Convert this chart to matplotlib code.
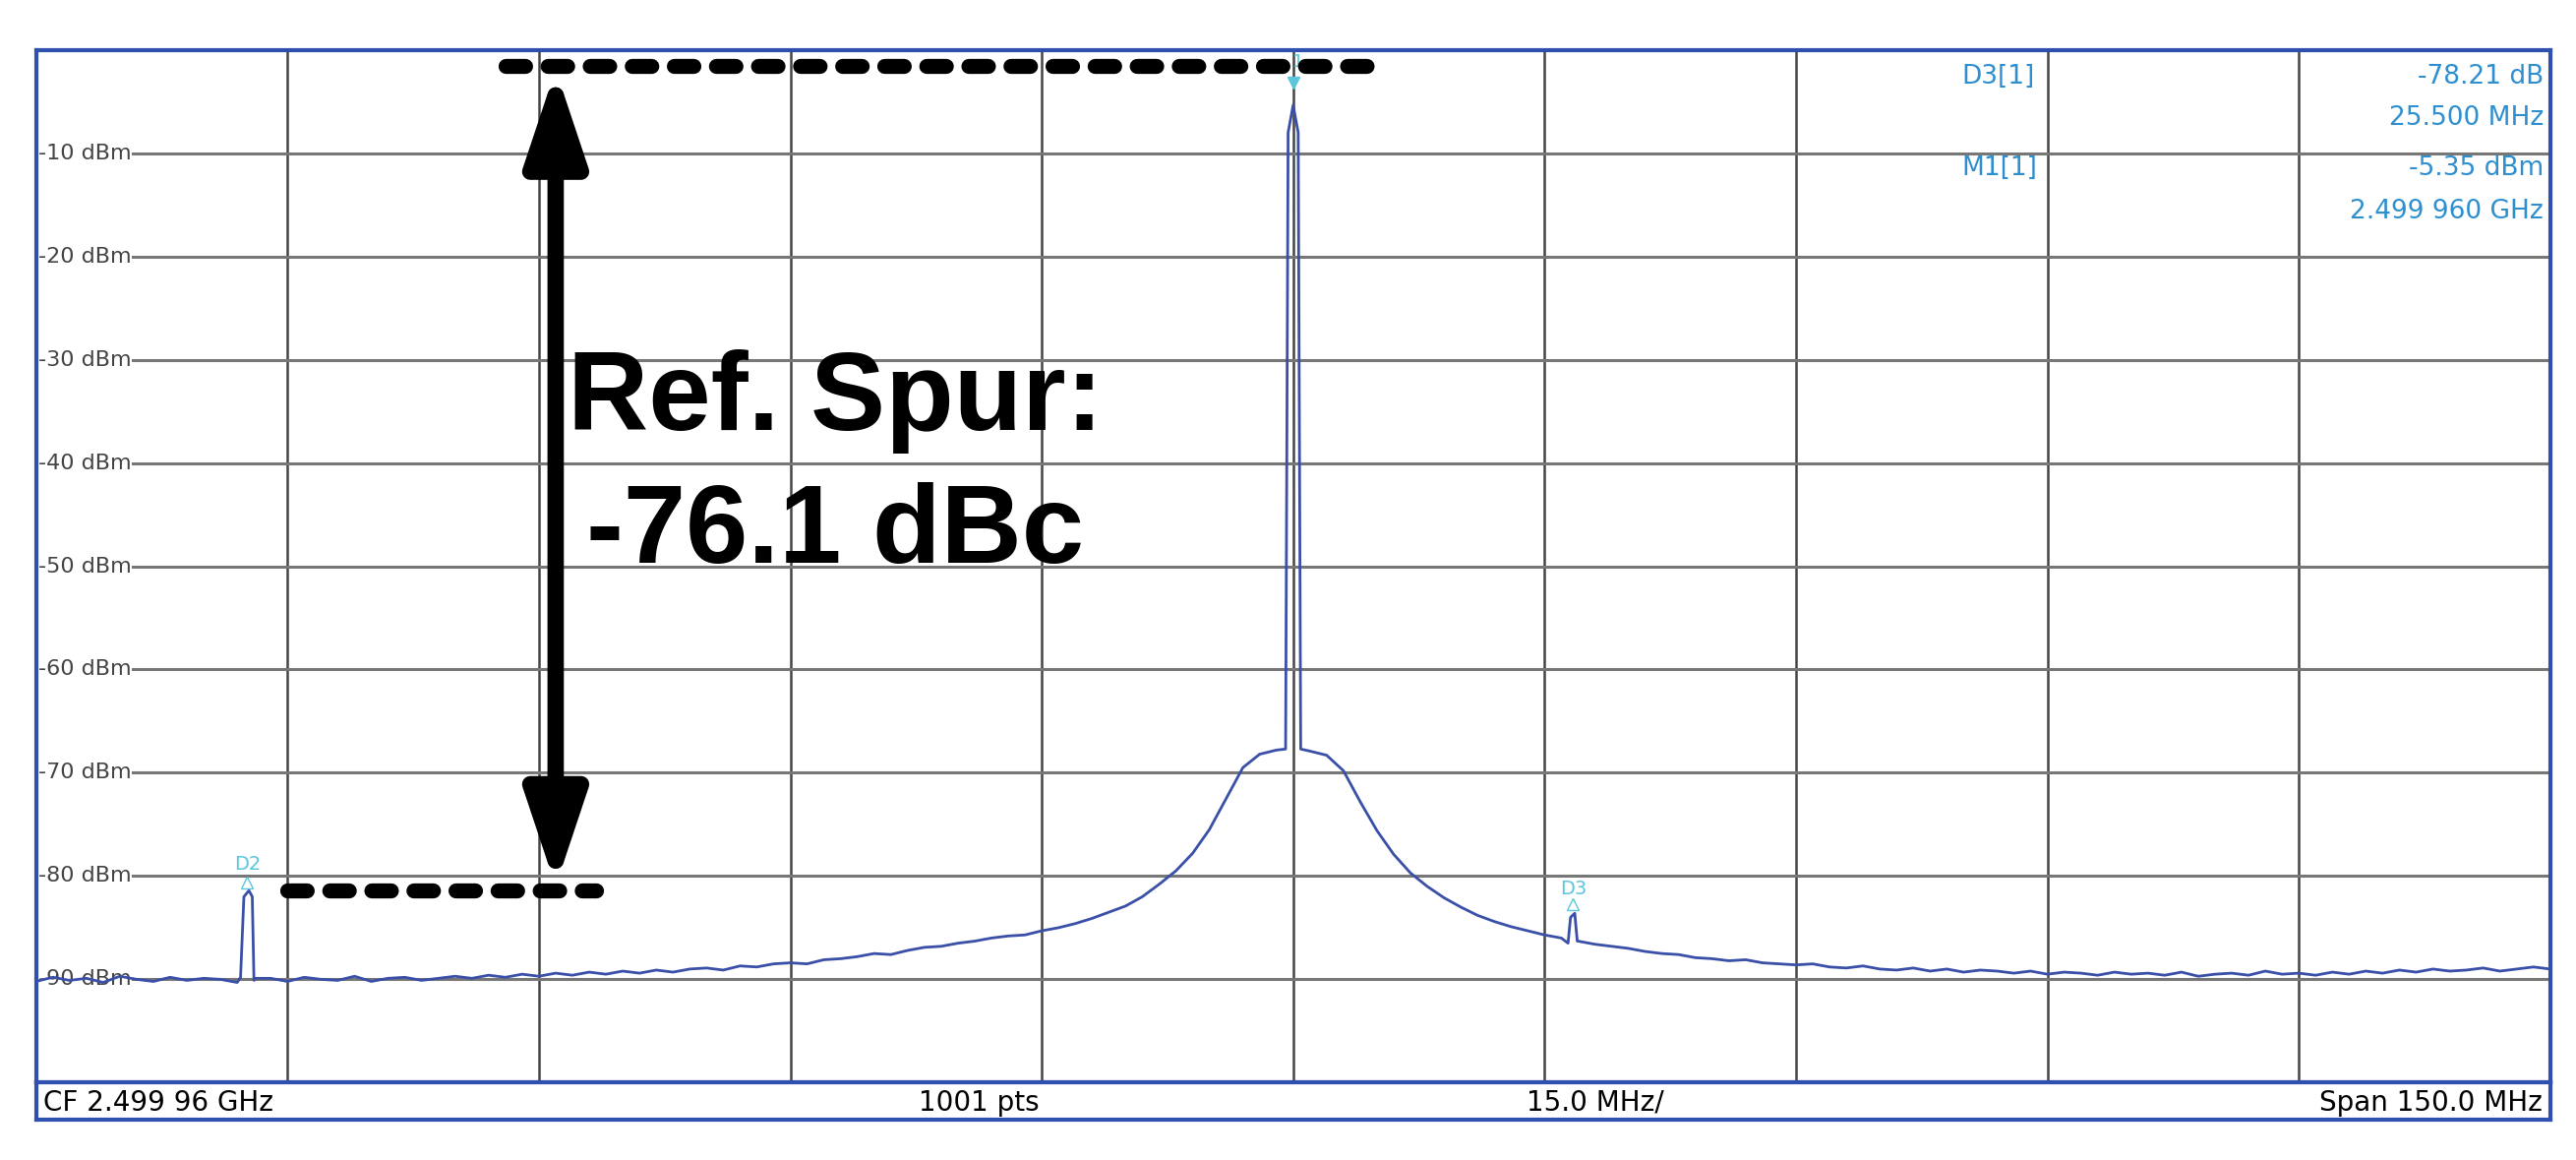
import matplotlib
matplotlib.use("Agg")
import matplotlib.pyplot as plt
from matplotlib.patches import FancyArrowPatch
import numpy as np

# baseline trace, 1 MHz steps from -75 to 75 MHz (offset from CF)
base_freq = list(range(-75, 76))
base_level = [
 -90.2,-89.8,-90.1,-89.9,-90.3,-89.7,-90.0,-90.2,-89.8,-90.1,-89.9,-90.0,
 -90.3,-90.1,-89.9,-90.2,-89.8,-90.0,-90.1,-89.7,-90.2,-89.9,-89.8,-90.1,-89.9,-89.7,
 -89.9,-89.6,-89.8,-89.5,-89.7,-89.4,-89.6,-89.3,-89.5,-89.2,
 -89.4,-89.1,-89.3,-89.0,-88.9,-89.1,-88.7,-88.8,-88.5,-88.4,
 -88.5,-88.1,-88.0,-87.8,-87.5,-87.6,-87.2,-86.9,-86.8,-86.5,
 -86.3,-86.0,-85.8,-85.7,-85.3,-85.0,-84.6,-84.1,-83.5,-82.9,
 -82.0,-80.8,-79.5,-77.8,-75.5,-72.5,-69.5,-68.2,-67.8,
 -5.35,
 -67.9,-68.3,-69.8,-72.8,-75.6,-77.9,-79.7,-81.0,-82.1,
 -83.0,-83.8,-84.4,-84.9,-85.3,-85.7,-86.0,-86.3,-86.6,-86.8,
 -87.0,-87.3,-87.5,-87.6,-87.9,-88.0,-88.2,-88.1,-88.4,-88.5,
 -88.6,-88.5,-88.8,-88.9,-88.7,-89.0,-89.1,-88.9,-89.2,-89.0,
 -89.3,-89.1,-89.2,-89.4,-89.2,-89.5,-89.3,-89.4,-89.6,-89.3,
 -89.5,-89.4,-89.6,-89.3,-89.7,-89.5,-89.4,-89.6,-89.2,-89.5,
 -89.4,-89.6,-89.3,-89.5,-89.2,-89.4,-89.1,-89.3,-89.0,-89.2,
 -89.1,-88.9,-89.2,-89.0,-88.8,-89.0]
# spike detail points (carrier, D2, D3)
spike_freq = [-0.45,-0.3,0.3,0.45, -62.8,-62.6,-62.3,-62.1,-61.9, 16.4,16.55,16.8,16.95]
spike_level = [-67.7,-8.0,-8.0,-67.7, -89.8,-82.0,-81.4,-82.0,-89.9, -86.5,-84.0,-83.6,-86.3]

yticks = [-10,-20,-30,-40,-50,-60,-70,-80,-90]
readout_labels = ["D3[1]", "M1[1]"]
readout_values = [["-78.21 dB", "25.500 MHz"], ["-5.35 dBm", "2.499 960 GHz"]]
status = ["CF 2.499 96 GHz", "1001 pts", "15.0 MHz/", "Span 150.0 MHz"]

f = np.array(base_freq + spike_freq, float)
l = np.array(base_level + spike_level, float)
o = np.argsort(f, kind="stable"); f, l = f[o], l[o]

fig = plt.figure(figsize=(26.19, 11.79), dpi=100)
ax = fig.add_axes([0.014, 0.0667, 0.976, 0.8903])
ax.set_xlim(-75, 75); ax.set_ylim(-100, 0)
for x in np.arange(-60, 75, 15):
    ax.axvline(x, color="#444444", lw=1.8, zorder=1)
for y in yticks:
    ax.axhline(y, color="#777777", lw=2.2, zorder=1)
    ax.text(-69.3, y, f"{y} dBm", ha="right", va="center", fontsize=16, color="#444444",
            bbox=dict(fc="white", ec="none", pad=0.5), zorder=2)
ax.set_xticks([]); ax.set_yticks([])
for s in ax.spines.values():
    s.set_color("#3050b0"); s.set_linewidth(3)
ax.plot(f, l, color="#3a4fa8", lw=2.0, zorder=3)

cyan = "#5bc6dd"
ax.plot([0], [-3.2], marker="v", color=cyan, ms=9, zorder=4)
ax.text(0.3, -1.2, "1", color=cyan, fontsize=13, ha="center", va="center", zorder=4)
ax.plot([-62.4], [-80.6], marker="^", color=cyan, ms=8, mfc="none", zorder=4)
ax.text(-62.4, -78.9, "D2", color=cyan, fontsize=14, ha="center", va="center", zorder=4)
ax.plot([16.7], [-82.7], marker="^", color=cyan, ms=8, mfc="none", zorder=4)
ax.text(16.7, -81.2, "D3", color=cyan, fontsize=14, ha="center", va="center", zorder=4)

blue = "#2e8fd0"
ys = [-2.6, -6.6, -11.5, -15.7]
ax.text(39.9, ys[0], readout_labels[0], color=blue, fontsize=19, ha="left", va="center")
ax.text(74.6, ys[0], readout_values[0][0], color=blue, fontsize=19, ha="right", va="center")
ax.text(74.6, ys[1], readout_values[0][1], color=blue, fontsize=19, ha="right", va="center")
ax.text(39.9, ys[2], readout_labels[1], color=blue, fontsize=19, ha="left", va="center")
ax.text(74.6, ys[2], readout_values[1][0], color=blue, fontsize=19, ha="right", va="center")
ax.text(74.6, ys[3], readout_values[1][1], color=blue, fontsize=19, ha="right", va="center")

# annotation
ax.plot([-47.0, 4.9], [-1.6, -1.6], color="black", lw=11, ls=(0, (1.3, 1.5)),
        dash_capstyle="round", zorder=5)
ax.plot([-60.0, -41.6], [-81.4, -81.4], color="black", lw=11, ls=(0, (1.3, 1.5)),
        dash_capstyle="round", zorder=5)
arr = FancyArrowPatch((-44.0, -81.0), (-44.0, -1.9),
                      arrowstyle="<|-|>,head_length=0.9,head_width=0.3",
                      mutation_scale=62, color="black", lw=12, shrinkA=0, shrinkB=0, zorder=5)
ax.add_patch(arr)
ax.text(-27.3, -40.5, "Ref. Spur:\n-76.1 dBc", fontsize=82, fontweight="bold",
        family=["Liberation Sans", "DejaVu Sans"], ha="center", va="center",
        linespacing=1.35, zorder=5)

sb = fig.add_axes([0.014, 0.035, 0.976, 0.0317])
sb.set_xlim(0, 1); sb.set_ylim(0, 1); sb.set_xticks([]); sb.set_yticks([])
for s in sb.spines.values():
    s.set_color("#3050b0"); s.set_linewidth(3)
sb.text(0.003, 0.45, status[0], fontsize=20, ha="left", va="center")
sb.text(0.375, 0.45, status[1], fontsize=20, ha="center", va="center")
sb.text(0.620, 0.45, status[2], fontsize=20, ha="center", va="center")
sb.text(0.997, 0.45, status[3], fontsize=20, ha="right", va="center")

fig.savefig("out.png", dpi=100)
